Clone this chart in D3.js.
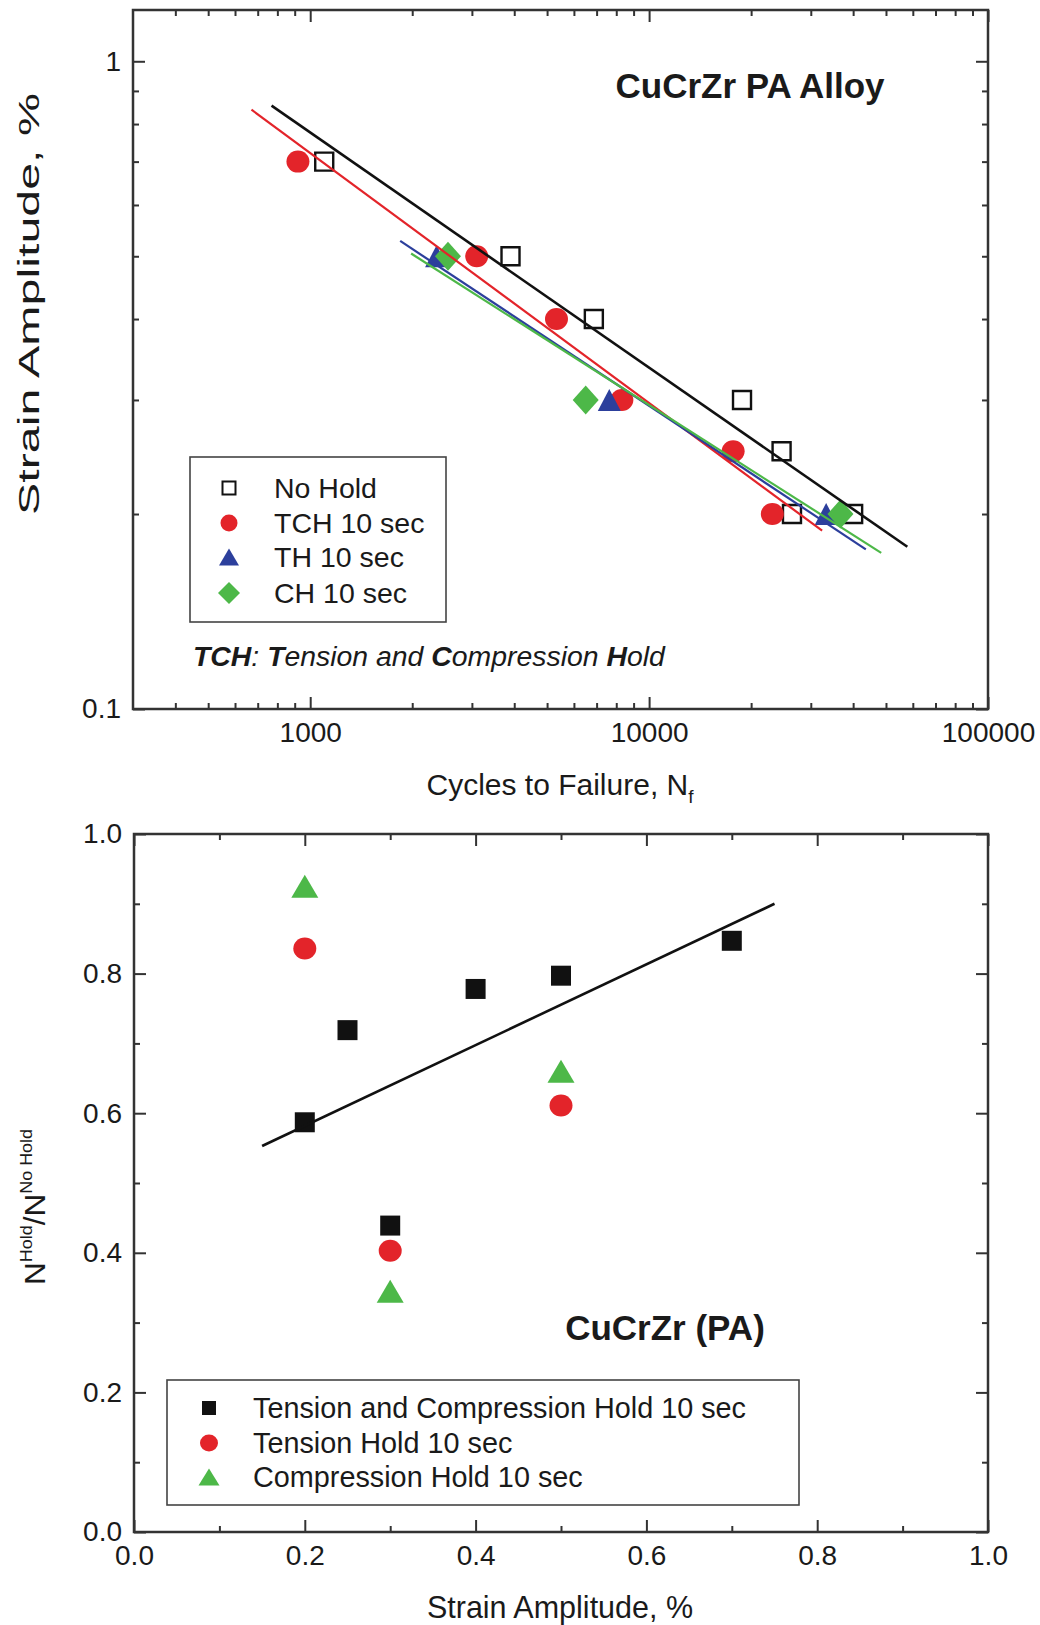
<!DOCTYPE html>
<html><head><meta charset="utf-8">
<script src="https://cdn.jsdelivr.net/npm/d3@7"></script>
<style>
body{margin:0;background:#fff}
svg{display:block}
text{font-family:"Liberation Sans",Arial,Helvetica,sans-serif;fill:#1a1a1a;white-space:pre}
</style>
</head><body>
<svg id="c" width="1040" height="1625"></svg>
<script>
// ---------------- DATA: top panel (log-log) ----------------
const topSeriesNames = ["No Hold", "TCH 10 sec", "TH 10 sec", "CH 10 sec"];
const cyclesNoHold = [1100, 3900, 6870, 18800, 24600, 26400, 40000];
const strainNoHold = [0.7, 0.5, 0.4, 0.3, 0.25, 0.2, 0.2];
const cyclesTCH = [920, 3100, 5330, 8310, 17700, 23100];
const strainTCH = [0.7, 0.5, 0.4, 0.3, 0.25, 0.2];
const cyclesTH = [2360, 7630, 33300];
const strainTH = [0.5, 0.3, 0.2];
const cyclesCH = [2550, 6500, 36700];
const strainCH = [0.5, 0.3, 0.2];
// fitted lines (end points)
const fitNoHoldN = [769, 57800],  fitNoHoldS = [0.854, 0.178];
const fitTCHN    = [671, 32400],  fitTCHS    = [0.842, 0.1885];
const fitTHN     = [1843, 43600], fitTHS     = [0.528, 0.1764];
const fitCHN     = [1985, 48400], fitCHS     = [0.505, 0.1742];
const topXMajor = [1000, 10000, 100000];
const topXMajorLabels = ["1000", "10000", "100000"];
const topXMinor = [400,500,600,700,800,900,2000,3000,4000,5000,6000,7000,8000,9000,20000,30000,40000,50000,60000,70000,80000,90000];
const topYMajor = [0.1, 1];
const topYMajorLabels = ["0.1", "1"];
const topYMinor = [0.2,0.3,0.4,0.5,0.6,0.7,0.8,0.9];

// ---------------- DATA: bottom panel ----------------
const botSeriesNames = ["Tension and Compression Hold 10 sec", "Tension Hold 10 sec", "Compression Hold 10 sec"];
const ampTCH = [0.2, 0.25, 0.3, 0.4, 0.5, 0.7];
const ratioTCH = [0.587, 0.719, 0.439, 0.778, 0.797, 0.847];
const ampTH = [0.2, 0.3, 0.5];
const ratioTH = [0.836, 0.403, 0.611];
const ampCH = [0.2, 0.3, 0.5];
const ratioCH = [0.925, 0.345, 0.660];
const fitBotX = [0.15, 0.75], fitBotY = [0.553, 0.9];
const botMajor = [0, 0.2, 0.4, 0.6, 0.8, 1.0];
const botMajorLabels = ["0.0", "0.2", "0.4", "0.6", "0.8", "1.0"];
const botMinor = [0.1, 0.3, 0.5, 0.7, 0.9];

// ---------------- drawing ----------------
const svg = d3.select("#c");
const FONT = '"Liberation Sans", Arial, Helvetica, sans-serif';
const AX = "#333";
const RED = "#e3242a", BLUE = "#2c3f9c", GREEN = "#4db848", BLACK = "#111";

function styleAxis(g, fs) {
  g.select(".domain").remove();
  g.attr("font-family", null).attr("font-size", null);
  g.selectAll(".tick line").attr("stroke", AX).attr("stroke-width", 2);
  g.selectAll(".tick text").attr("font-size", fs).attr("font-family", FONT).attr("fill", "#1a1a1a");
}
function drawAxes(xs, ys, B, xMaj, xLab, xMin, yMaj, yLab, yMin) {
  const mk = (axis, tr) => svg.append("g").attr("transform", tr).call(axis).call(g => styleAxis(g, 28));
  mk(d3.axisBottom(xs).tickValues(xMaj).tickSize(-12).tickPadding(13).tickFormat((d, i) => xLab[i]), `translate(0,${B.b})`);
  mk(d3.axisBottom(xs).tickValues(xMin).tickSize(-6).tickFormat(""), `translate(0,${B.b})`);
  mk(d3.axisTop(xs).tickValues(xMaj).tickSize(-12).tickFormat(""), `translate(0,${B.t})`);
  mk(d3.axisTop(xs).tickValues(xMin).tickSize(-6).tickFormat(""), `translate(0,${B.t})`);
  mk(d3.axisLeft(ys).tickValues(yMaj).tickSize(-12).tickPadding(12).tickFormat((d, i) => yLab[i]), `translate(${B.l},0)`);
  mk(d3.axisLeft(ys).tickValues(yMin).tickSize(-6).tickFormat(""), `translate(${B.l},0)`);
  mk(d3.axisRight(ys).tickValues(yMaj).tickSize(-12).tickFormat(""), `translate(${B.r},0)`);
  mk(d3.axisRight(ys).tickValues(yMin).tickSize(-6).tickFormat(""), `translate(${B.r},0)`);
  svg.append("rect").attr("x", B.l).attr("y", B.t).attr("width", B.r - B.l).attr("height", B.b - B.t)
    .attr("fill", "none").attr("stroke", AX).attr("stroke-width", 2.5);
}

// marker shapes (relative to point)
const shape = {
  square: (w, h) => `M${-w/2},${-h/2}h${w}v${h}h${-w}Z`,
  triangle: (w, h) => `M0,${-h/2}L${w/2},${h/2}L${-w/2},${h/2}Z`,
  diamond: (w, h) => `M0,${-h/2}L${w/2},0L0,${h/2}L${-w/2},0Z`,
  circle: (w, h) => `M${-w/2},0a${w/2},${h/2} 0 1,0 ${w},0a${w/2},${h/2} 0 1,0 ${-w},0Z`
};
function markers(g, xs, ys, xv, yv, type, w, h, fill, stroke, sw) {
  g.selectAll(null).data(xv.map((x, i) => [x, yv[i]])).join("path")
    .attr("transform", d => `translate(${xs(d[0])},${ys(d[1])})`)
    .attr("d", shape[type](w, h))
    .attr("fill", fill).attr("stroke", stroke || "none").attr("stroke-width", sw || 0);
}
function fitLine(g, xs, ys, xv, yv, color, width) {
  g.append("path").datum(xv.map((x, i) => [x, yv[i]]))
    .attr("d", d3.line().x(d => xs(d[0])).y(d => ys(d[1])))
    .attr("fill", "none").attr("stroke", color).attr("stroke-width", width);
}

// ===== TOP PANEL =====
const T = {l: 133, r: 988, t: 10, b: 709};
const x1 = d3.scaleLog().domain([300, 100000]).range([T.l, T.r]);
const y1 = d3.scaleLog().domain([0.1, 1.2]).range([T.b, T.t]);
drawAxes(x1, y1, T, topXMajor, topXMajorLabels, topXMinor, topYMajor, topYMajorLabels, topYMinor);

const gTop = svg.append("g");
markers(gTop, x1, y1, cyclesNoHold, strainNoHold, "square", 18, 18, "none", BLACK, 2.4);
markers(gTop, x1, y1, cyclesTCH, strainTCH, "circle", 23, 22, RED);
markers(gTop, x1, y1, cyclesTH, strainTH, "triangle", 23, 22, BLUE);
markers(gTop, x1, y1, cyclesCH, strainCH, "diamond", 26, 29, GREEN);
fitLine(gTop, x1, y1, fitNoHoldN, fitNoHoldS, BLACK, 2.6);
fitLine(gTop, x1, y1, fitTCHN, fitTCHS, RED, 2.2);
fitLine(gTop, x1, y1, fitTHN, fitTHS, BLUE, 2.2);
fitLine(gTop, x1, y1, fitCHN, fitCHS, GREEN, 2.2);

svg.append("text").attr("x", 750).attr("y", 98).attr("text-anchor", "middle")
  .attr("font-size", 35).attr("font-weight", "bold").text("CuCrZr PA Alloy");

// top legend
svg.append("rect").attr("x", 190).attr("y", 457).attr("width", 256).attr("height", 165)
  .attr("fill", "none").attr("stroke", "#444").attr("stroke-width", 1.6);
const topLegShapes = [["square", 13, 13, "none", BLACK, 2], ["circle", 17, 17, RED], ["triangle", 20, 17, BLUE], ["diamond", 22, 22, GREEN]];
const topLegY = [488, 523, 557, 593];
topSeriesNames.forEach((name, i) => {
  const s = topLegShapes[i];
  svg.append("path").attr("transform", `translate(229,${topLegY[i]})`).attr("d", shape[s[0]](s[1], s[2]))
    .attr("fill", s[3]).attr("stroke", s[4] || "none").attr("stroke-width", s[5] || 0);
  svg.append("text").attr("x", 274).attr("y", topLegY[i] + 10).attr("font-size", 28.5).text(name);
});
const note = svg.append("text").attr("x", 193).attr("y", 666).attr("font-size", 28.4).attr("font-style", "italic");
[["TCH", 1], [": ", 0], ["T", 1], ["ension and ", 0], ["C", 1], ["ompression ", 0], ["H", 1], ["old", 0]]
  .forEach(([t, b]) => note.append("tspan").attr("font-weight", b ? "bold" : "normal").text(t));

// top axis titles
const xt1 = svg.append("text").attr("x", 560).attr("y", 795).attr("text-anchor", "middle").attr("font-size", 30);
xt1.append("tspan").text("Cycles to Failure, N");
xt1.append("tspan").attr("font-size", 19).attr("dy", 8).text("f");
svg.append("text").attr("transform", "translate(39,304) rotate(-90)").attr("text-anchor", "middle")
  .attr("font-size", 29).attr("textLength", 422).attr("lengthAdjust", "spacingAndGlyphs").text("Strain Amplitude, %");

// ===== BOTTOM PANEL =====
const Bt = {l: 134, r: 988, t: 834, b: 1532};
const x2 = d3.scaleLinear().domain([0, 1]).range([Bt.l, Bt.r]);
const y2 = d3.scaleLinear().domain([0, 1]).range([Bt.b, Bt.t]);
drawAxes(x2, y2, Bt, botMajor, botMajorLabels, botMinor, botMajor, botMajorLabels, botMinor);

const gBot = svg.append("g");
markers(gBot, x2, y2, ampTCH, ratioTCH, "square", 20, 20, BLACK);
markers(gBot, x2, y2, ampTH, ratioTH, "circle", 23, 22, RED);
markers(gBot, x2, y2, ampCH, ratioCH, "triangle", 27, 23, GREEN);
fitLine(gBot, x2, y2, fitBotX, fitBotY, BLACK, 2.6);

svg.append("text").attr("x", 665).attr("y", 1340).attr("text-anchor", "middle")
  .attr("font-size", 35).attr("font-weight", "bold").text("CuCrZr (PA)");

svg.append("rect").attr("x", 167).attr("y", 1380).attr("width", 632).attr("height", 125)
  .attr("fill", "none").attr("stroke", "#444").attr("stroke-width", 1.6);
const botLegShapes = [["square", 14, 14, BLACK], ["circle", 18, 17, RED], ["triangle", 21, 17, GREEN]];
const botLegY = [1408, 1443, 1477];
botSeriesNames.forEach((name, i) => {
  const s = botLegShapes[i];
  svg.append("path").attr("transform", `translate(209,${botLegY[i]})`).attr("d", shape[s[0]](s[1], s[2])).attr("fill", s[3]);
  svg.append("text").attr("x", 253).attr("y", botLegY[i] + 10).attr("font-size", 28.8).text(name);
});

svg.append("text").attr("x", 560).attr("y", 1618).attr("text-anchor", "middle").attr("font-size", 30.5).text("Strain Amplitude, %");
const yt2 = svg.append("text").attr("text-anchor", "middle").attr("font-size", 30);
yt2.append("tspan").text("N");
yt2.append("tspan").attr("font-size", 17).attr("dy", -13).text("Hold");
yt2.append("tspan").attr("dy", 13).text("/N");
yt2.append("tspan").attr("font-size", 17).attr("dy", -13).text("No Hold");
const bw = yt2.node().getComputedTextLength();
yt2.attr("transform", `translate(45,1207) rotate(-90) scale(${156 / bw},1)`);
</script>
</body></html>
